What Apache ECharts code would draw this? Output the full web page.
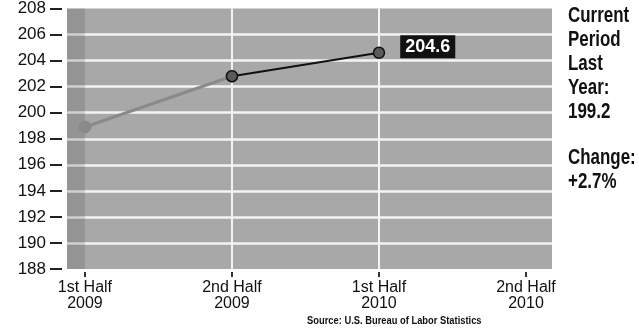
<!DOCTYPE html>
<html>
<head>
<meta charset="utf-8">
<script src="https://cdn.jsdelivr.net/npm/echarts@6/dist/echarts.min.js"></script>
<style>
  html, body { margin: 0; padding: 0; background: #fff; }
  #chart { width: 639px; height: 328px; }
</style>
</head>
<body>
<div id="chart"></div>
<script>
// data
var categories = ['1st Half\n2009', '2nd Half\n2009', '1st Half\n2010', '2nd Half\n2010'];
var values = [198.9, 202.8, 204.6, null];
var grayUpTo = 1;      // segment drawn in gray ends at this index
var labelIndex = 2;    // point that carries the boxed value
var yTicks = { min: 188, max: 208, step: 2 };
var sideNote = ['Current', 'Period', 'Last', 'Year:', '199.2'];
var changeNote = ['Change:', '+2.7%'];
var source = 'Source: U.S. Bureau of Labor Statistics';

document.addEventListener('DOMContentLoaded', function () {
    var chart = echarts.init(document.getElementById('chart'));

    var xMin = -0.122, xMax = 3.177; // padding either side of the categories
    var tickVals = categories.map(function (c, i) { return i; });

    // first segment (gray) and second segment (black)
    var grayData = values.map(function (v, i) {
        return i <= grayUpTo ? [i, v] : [i, null];
    });
    var blackData = values.map(function (v, i) {
        if (i < grayUpTo || v == null) return [i, null];
        var item = { value: [i, v] };
        if (i === labelIndex) {
            item.label = {
                show: true,
                position: 'right',
                distance: 15,
                offset: [0, -6],
                formatter: function (p) { return p.value[1].toFixed(1); },
                backgroundColor: '#111',
                color: '#fff',
                fontFamily: 'Liberation Sans',
                fontWeight: 'bold',
                fontSize: 18,
                padding: [3, 5, 2, 5]
            };
        }
        return item;
    });

    // condensed bold look: Liberation Sans Bold squeezed horizontally
    function note(lines, x, y) {
        return {
            type: 'text',
            x: x, y: y,
            scaleX: 0.77,
            silent: true,
            style: {
                text: lines.join('\n'),
                font: 'bold 22px "Liberation Sans"',
                lineHeight: 24,
                fill: '#111',
                textVerticalAlign: 'top'
            }
        };
    }

    var option = {
        animation: false,
        graphic: [
            note(sideNote, 568, 4),
            note(changeNote, 568, 146),
            {
                type: 'text',
                x: 307, y: 315,
                scaleX: 0.85,
                silent: true,
                style: {
                    text: source,
                    font: 'bold 11px "Liberation Sans"',
                    fill: '#111',
                    textVerticalAlign: 'top'
                }
            }
        ],
        grid: {
            left: 67, right: 87, top: 5, bottom: 59,
            show: true,
            backgroundColor: '#a8a8a8',
            borderWidth: 0
        },
        xAxis: {
            type: 'value',
            min: xMin, max: xMax,
            interval: 1,
            axisLine: { show: false, onZero: false },
            axisTick: {
                show: true, inside: false, length: 5, customValues: tickVals,
                lineStyle: { color: '#333', width: 2 }
            },
            offset: 3,
            axisLabel: {
                customValues: tickVals,
                formatter: function (v) { return categories[Math.round(v)]; },
                fontFamily: 'Liberation Sans', fontSize: 16, lineHeight: 16,
                color: '#111', margin: 8
            },
            splitLine: {
                show: true, showMinLine: false, showMaxLine: false,
                lineStyle: { color: '#f4f4f4', width: 2 }
            }
        },
        yAxis: {
            type: 'value',
            min: yTicks.min, max: yTicks.max, interval: yTicks.step,
            offset: 5,
            axisLine: { show: false, onZero: false },
            axisTick: { show: true, inside: false, length: 12, lineStyle: { color: '#222', width: 2 } },
            axisLabel: {
                fontFamily: 'Liberation Sans', fontSize: 17, color: '#111', margin: 16
            },
            splitLine: {
                show: true, showMinLine: false, showMaxLine: false,
                lineStyle: { color: '#f4f4f4', width: 2.5 }
            }
        },
        series: [
            {
                type: 'line',
                data: grayData,
                z: 3,
                symbol: 'circle',
                symbolSize: 13,
                showSymbol: true,
                lineStyle: { color: '#8a8a8a', width: 3 },
                itemStyle: { color: '#8a8a8a', borderWidth: 0 },
                markArea: {
                    silent: true,
                    itemStyle: { color: 'rgba(70,70,70,0.2)' },
                    data: [[{ xAxis: xMin }, { xAxis: 0 }]]
                }
            },
            {
                type: 'line',
                data: blackData,
                z: 4,
                symbol: 'circle',
                symbolSize: 11,
                lineStyle: { color: '#111', width: 2 },
                itemStyle: { color: '#5a5a5a', borderColor: '#111', borderWidth: 1.5 }
            }
        ]
    };

    chart.setOption(option);
    window.addEventListener('resize', function () {
        chart.resize();
    });
});
</script>
</body>
</html>
